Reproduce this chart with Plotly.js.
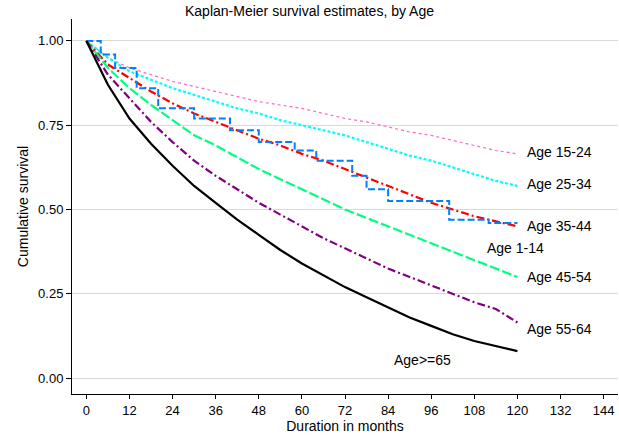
<!DOCTYPE html>
<html><head><script src="https://cdn.plot.ly/plotly-3.0.1.min.js"></script></head>
<body style="margin:0"><div id="km" style="width:619px;height:437px"></div>
<script>
// Kaplan-Meier survival by age group
var months = [0, 6, 12, 18, 24, 30, 36, 42, 48, 54, 60, 66, 72, 78, 84, 90, 96, 102, 108, 114, 120];
var age1524 = [1, 0.95, 0.92, 0.90, 0.88, 0.865, 0.85, 0.835, 0.82, 0.81, 0.80, 0.785, 0.77, 0.76, 0.745, 0.73, 0.72, 0.705, 0.69, 0.675, 0.665];
var age2534 = [1, 0.95, 0.91, 0.885, 0.86, 0.84, 0.82, 0.80, 0.785, 0.765, 0.75, 0.735, 0.72, 0.70, 0.68, 0.66, 0.645, 0.625, 0.605, 0.585, 0.57];
var age3544 = [1, 0.93, 0.89, 0.85, 0.815, 0.785, 0.76, 0.735, 0.71, 0.69, 0.665, 0.645, 0.62, 0.595, 0.57, 0.545, 0.52, 0.50, 0.48, 0.465, 0.45];
var age4554 = [1, 0.92, 0.86, 0.81, 0.765, 0.72, 0.69, 0.655, 0.62, 0.59, 0.56, 0.53, 0.50, 0.475, 0.45, 0.425, 0.40, 0.375, 0.35, 0.325, 0.30];
var age5564 = [1, 0.90, 0.83, 0.76, 0.70, 0.645, 0.60, 0.56, 0.52, 0.485, 0.45, 0.415, 0.385, 0.355, 0.325, 0.30, 0.275, 0.25, 0.225, 0.205, 0.165];
var age65 = [1, 0.87, 0.77, 0.695, 0.63, 0.57, 0.52, 0.47, 0.425, 0.38, 0.34, 0.305, 0.27, 0.24, 0.21, 0.18, 0.155, 0.13, 0.11, 0.095, 0.08];
// Age 1-14 is a step function
var kidMonths = [0, 4, 8, 14, 20, 30, 40, 48, 58, 64, 74, 78, 84, 101, 112, 120];
var kidSurv = [1, 0.96, 0.92, 0.86, 0.80, 0.77, 0.735, 0.70, 0.675, 0.645, 0.60, 0.56, 0.525, 0.47, 0.46, 0.46];

var labels = ['Age 15-24', 'Age 25-34', 'Age 35-44', 'Age 1-14', 'Age 45-54', 'Age 55-64', 'Age>=65'];
var labelX = [122, 122, 122, 111, 122, 122, 85];
var labelY = [0.67, 0.575, 0.45, 0.385, 0.30, 0.145, 0.055];

function line(x, y, color, dash, width, shape) {
  return {x: x, y: y, mode: 'lines', type: 'scatter', hoverinfo: 'skip',
    line: {color: color, dash: dash, width: width || 2, shape: shape || 'linear'}};
}

var data = [
  line(months, age1524, '#ff66cc', 'dot', 1.2),
  line(months, age2534, '#00ffff', '3px,2px', 2.2),
  line(months, age3544, '#ff0000', '8px,3px,2px,3px', 2.2),
  line(kidMonths, kidSurv, '#0080ff', '7px,3px', 2, 'hv'),
  line(months, age4554, '#00ff80', '10px,3px', 2.2),
  line(months, age5564, '#800080', '8px,3px,2px,3px', 2.2),
  line(months, age65, '#000000', 'solid', 2.2)
];

var anns = labels.map(function(t, i) {
  return {x: labelX[i], y: labelY[i], text: t, showarrow: false, xanchor: 'left',
    font: {size: 14, color: '#000'}};
});

Plotly.newPlot('km', data, {
  width: 619, height: 437,
  margin: {l: 72, r: 1, t: 19, b: 43},
  showlegend: false,
  paper_bgcolor: '#fff', plot_bgcolor: '#fff',
  font: {family: 'Liberation Sans, Arial, sans-serif', size: 14, color: '#000'},
  title: {text: 'Kaplan-Meier survival estimates, by Age', x: 0.5, y: 0.985, font: {size: 14}},
  annotations: anns,
  xaxis: {range: [-4, 148], tickvals: [0, 12, 24, 36, 48, 60, 72, 84, 96, 108, 120, 132, 144],
    showgrid: false, zeroline: false, showline: true, linecolor: '#000', ticks: 'outside',
    ticklen: 4, tickcolor: '#000', tickfont: {size: 13},
    title: {text: 'Duration in months', standoff: 2, font: {size: 14}}},
  yaxis: {range: [-0.047, 1.065], tickvals: [0, 0.25, 0.5, 0.75, 1], tickformat: '.2f',
    showgrid: true, gridcolor: '#d9d9d9', zeroline: false, showline: true, linecolor: '#000',
    ticks: 'outside', ticklen: 5, tickcolor: '#000', tickfont: {size: 13},
    title: {text: 'Cumulative survival', standoff: 6, font: {size: 14}}}
}, {displayModeBar: false});
</script></body></html>
